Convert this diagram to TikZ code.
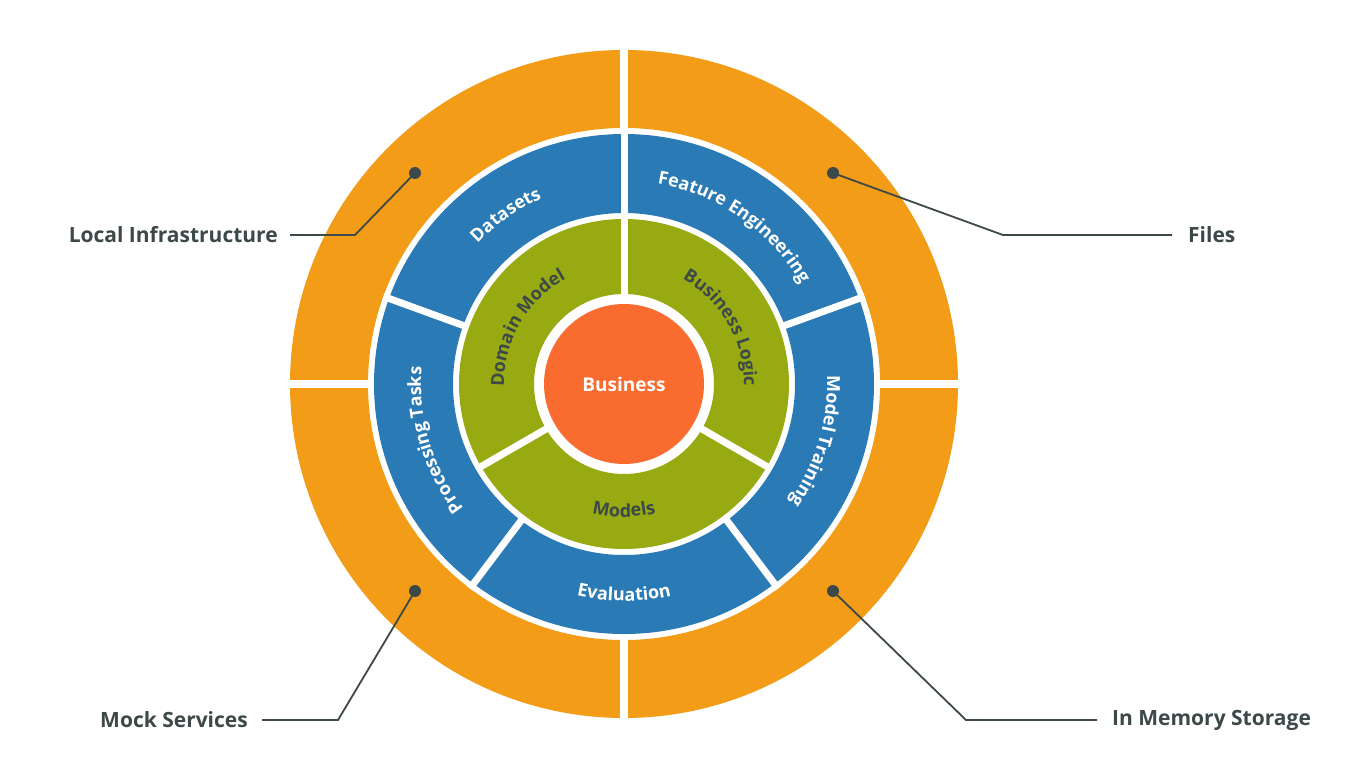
\documentclass[tikz,border=0pt]{standalone}
\usepackage{fontspec}
\setmainfont{Open Sans}
\usetikzlibrary{decorations.text}
\definecolor{orng}{HTML}{F39C17}
\definecolor{blu}{HTML}{2A7AB5}
\definecolor{grn}{HTML}{97AA11}
\definecolor{ctr}{HTML}{F96B2E}
\definecolor{dk}{HTML}{3D4848}
\newcommand\annsec[5]{\fill[#1] (#2:#5pt) arc[start angle=#2,end angle=#3,radius=#5pt] -- (#3:#4pt) arc[start angle=#3,end angle=#2,radius=#4pt] -- cycle;}
\tikzset{
 sep/.style={white,line width=8pt},
 ringtxt/.style 2 args={decorate,decoration={text along path,text={|\fontsize{18}{20}\selectfont\bfseries|#2},text align=center,text color=#1}},
 dot/.style={circle,fill=dk,inner sep=0pt,minimum size=12pt},
 lbl/.style={font=\fontsize{21}{24}\selectfont\bfseries,text=dk,inner sep=0pt},
 conn/.style={dk,line width=1.8pt}
}
\begin{document}
\begin{tikzpicture}
\useasboundingbox (0pt,0pt) rectangle (1358pt,-760pt);
\begin{scope}[shift={(624pt,-384pt)}]
\annsec{orng}{0}{360}{256}{334}
\foreach \a in {0,90,180,270} \draw[sep] (\a:240pt) -- (\a:340pt);
\annsec{blu}{0}{360}{171}{250}
\foreach \a in {90,160,20,-53,233} \draw[sep,line width=7pt] (\a:165pt) -- (\a:256pt);
\annsec{grn}{0}{360}{90}{165}
\foreach \a in {90,210,330} \draw[sep,line width=7pt] (\a:80pt) -- (\a:170pt);
\fill[ctr] (0,0) circle[radius=80pt];
\node[font=\fontsize{19}{20}\selectfont\bfseries,text=white] (bus) at (0,0) {Business};
% blue labels
\path[ringtxt={white}{Datasets}] (160:203pt) arc[start angle=160,end angle=90,radius=203pt];
\path[ringtxt={white}{Feature Engineering}] (90:203pt) arc[start angle=90,end angle=20,radius=203pt];
\path[ringtxt={white}{Model Training}] (20:203pt) arc[start angle=20,end angle=-53,radius=203pt];
\path[ringtxt={white}{Processing Tasks}] (233:203pt) arc[start angle=233,end angle=160,radius=203pt];
\path[ringtxt={white}{Evaluation}] (233:217pt) arc[start angle=233,end angle=307,radius=217pt];
% green labels
\path[ringtxt={dk}{Domain Model}] (210:120pt) arc[start angle=210,end angle=90,radius=120pt];
\path[ringtxt={dk}{Business Logic}] (90:120pt) arc[start angle=90,end angle=-30,radius=120pt];
\path[ringtxt={dk}{Models}] (210:133pt) arc[start angle=210,end angle=330,radius=133pt];
\end{scope}
% callouts
\node[dot] (d1) at (415pt,-173pt) {};
\node[dot] (d2) at (833pt,-173pt) {};
\node[dot] (d3) at (415pt,-591pt) {};
\node[dot] (d4) at (833pt,-591pt) {};
\node[lbl,anchor=east] (l1) at (278pt,-235pt) {Local Infrastructure};
\node[lbl,anchor=west] (l2) at (1188pt,-235pt) {Files};
\node[lbl,anchor=east] (l3) at (248pt,-720pt) {Mock Services};
\node[lbl,anchor=west] (l4) at (1112pt,-720pt) {In Memory Storage};
\coordinate (k1) at (355pt,-235pt);
\coordinate (k2) at (1003pt,-235pt);
\coordinate (k3) at (338pt,-720pt);
\coordinate (k4) at (966pt,-720pt);
\draw[conn] (d1.center) -- (k1) -- ([xshift=12pt]l1.east);
\draw[conn] (d2.center) -- (k2) -- ([xshift=-16pt]l2.west);
\draw[conn] (d3.center) -- (k3) -- ([xshift=14pt]l3.east);
\draw[conn] (d4.center) -- (k4) -- ([xshift=-15pt]l4.west);
\end{tikzpicture}
\end{document}
